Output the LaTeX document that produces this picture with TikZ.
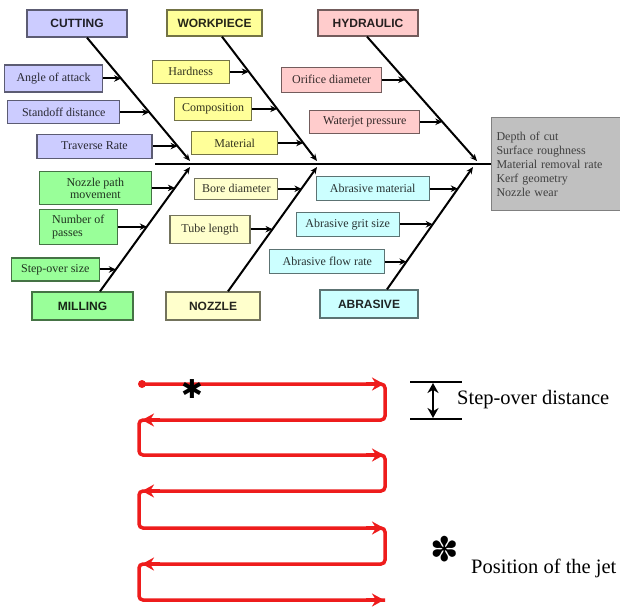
\documentclass[tikz,border=0pt]{standalone}
\usepackage{fontspec}
\setmainfont{Liberation Serif}
\setsansfont{Liberation Sans}
\newfontfamily\symfont{DejaVu Sans}
\usetikzlibrary{arrows.meta,calc}
\definecolor{cutC}{HTML}{CCCCFF}
\definecolor{wpC}{HTML}{FFFF99}
\definecolor{hydC}{HTML}{FFCCCC}
\definecolor{milC}{HTML}{99FF99}
\definecolor{nozC}{HTML}{FFFFCC}
\definecolor{abrC}{HTML}{CCFFFF}
\definecolor{outC}{HTML}{C0C0C0}
\definecolor{pathred}{HTML}{EE1C1C}
\tikzset{
  cat/.style={draw=#1!45!black, fill=#1, line width=1.3pt, inner sep=0pt,
    font=\sffamily\bfseries\fontsize{12}{12}\selectfont, text=#1!15!black},
  sub/.style={draw=#1!45!black, fill=#1, line width=1.1pt, inner sep=1pt, align=center,
    font=\fontsize{12}{13}\selectfont, text=#1!20!black},
  bone/.style={line width=2pt, -{Stealth[length=7pt,width=6pt]}},
  feed/.style={line width=2pt, -{Stealth[length=7pt,width=6.5pt]}},
  redpath/.style={draw=pathred, line width=3.5pt},
  redtip/.style={draw=pathred, line width=3.5pt, -{Stealth[length=12pt,width=13pt]}},
  bigtext/.style={font=\fontsize{20.5}{20.5}\selectfont, inner sep=0pt}
}
\begin{document}
\begin{tikzpicture}[x=1pt,y=-1pt]
\useasboundingbox[fill=white] (0,0) rectangle (620,606);

% category boxes
\node[cat=cutC, minimum width=100pt, minimum height=27pt] (cut) at (77,23.5) {CUTTING};
\node[cat=wpC, minimum width=95pt, minimum height=26pt] (wp) at (214.5,23) {WORKPIECE};
\node[cat=hydC, minimum width=100pt, minimum height=26pt] (hyd) at (368,23) {HYDRAULIC};
\node[cat=milC, minimum width=101pt, minimum height=28pt] (mil) at (82.5,306) {MILLING};
\node[cat=nozC, minimum width=94pt, minimum height=28pt] (noz) at (213,306) {NOZZLE};
\node[cat=abrC, minimum width=98pt, minimum height=28pt] (abr) at (369,304) {ABRASIVE};

% output box
\node[draw=black!50, fill=outC, line width=1.1pt, minimum height=93pt, text width=124pt,
  inner xsep=5pt, align=left, font=\fontsize{12}{14}\selectfont, text=black!75] (out) at (558.5,164)
  {Depth of cut\\Surface roughness\\Material removal rate\\Kerf geometry\\Nozzle wear};

% spine
\coordinate (spineL) at (155,164);
\draw[line width=2pt] (spineL) -- (out.west);

% bone end points
\coordinate (cutT) at ($(cut.south)+(10,0)$);
\coordinate (cutB) at (190,161);
\coordinate (wpT) at ($(wp.south)+(7.5,0)$);
\coordinate (wpB) at (317,161);
\coordinate (hydT) at ($(hyd.south)+(-1,0)$);
\coordinate (hydB) at (477,161);
\coordinate (milT) at ($(mil.north)+(17.5,0)$);
\coordinate (milB) at (190,167);
\coordinate (nozT) at ($(noz.north)+(15,0)$);
\coordinate (nozB) at (317,167);
\coordinate (abrT) at ($(abr.north)+(18,0)$);
\coordinate (abrB) at (473,167);

\draw[bone] (cutT) -- (cutB);
\draw[bone] (wpT) -- (wpB);
\draw[bone] (hydT) -- (hydB);
\draw[bone] (milT) -- (milB);
\draw[bone] (nozT) -- (nozB);
\draw[bone] (abrT) -- (abrB);

% points on bones
\coordinate (p11) at ($(cutT)!0.331!(cutB)$);
\coordinate (p12) at ($(cutT)!0.605!(cutB)$);
\coordinate (p13) at ($(cutT)!0.879!(cutB)$);
\coordinate (p21) at ($(wpT)!0.282!(wpB)$);
\coordinate (p22) at ($(wpT)!0.581!(wpB)$);
\coordinate (p23) at ($(wpT)!0.855!(wpB)$);
\coordinate (p31) at ($(hydT)!0.347!(hydB)$);
\coordinate (p32) at ($(hydT)!0.685!(hydB)$);
\coordinate (p41) at ($(milB)!0.168!(milT)$);
\coordinate (p42) at ($(milB)!0.48!(milT)$);
\coordinate (p43) at ($(milB)!0.824!(milT)$);
\coordinate (p51) at ($(nozB)!0.175!(nozT)$);
\coordinate (p52) at ($(nozB)!0.5!(nozT)$);
\coordinate (p61) at ($(abrB)!0.177!(abrT)$);
\coordinate (p62) at ($(abrB)!0.468!(abrT)$);
\coordinate (p63) at ($(abrB)!0.774!(abrT)$);

% sub-cause boxes
\node[sub=cutC, anchor=east, minimum width=98pt, minimum height=27pt] (s11) at ([xshift=-18pt]p11) {Angle of attack};
\node[sub=cutC, anchor=east, minimum width=112pt, minimum height=23pt] (s12) at ([xshift=-29pt]p12) {Standoff distance};
\node[sub=cutC, anchor=east, minimum width=115pt, minimum height=24pt] (s13) at ([xshift=-25pt]p13) {Traverse Rate};
\node[sub=wpC, anchor=east, minimum width=77pt, minimum height=23pt] (s21) at ([xshift=-19pt]p21) {Hardness};
\node[sub=wpC, anchor=east, minimum width=77pt, minimum height=23pt] (s22) at ([xshift=-25pt]p22) {Composition};
\node[sub=wpC, anchor=east, minimum width=86pt, minimum height=23pt] (s23) at ([xshift=-25pt]p23) {Material};
\node[sub=hydC, anchor=east, minimum width=100pt, minimum height=25pt] (s31) at ([xshift=-23pt]p31) {Orifice diameter};
\node[sub=hydC, anchor=east, minimum width=110pt, minimum height=23pt] (s32) at ([xshift=-22pt]p32) {Waterjet pressure};
\node[sub=milC, anchor=east, minimum width=112pt, minimum height=33pt, font=\fontsize{12}{12}\selectfont] (s41) at ([xshift=-23pt]p41) {Nozzle path\\movement};
\node[sub=milC, anchor=east, minimum width=78pt, minimum height=35pt, align=left, font=\fontsize{12}{13}\selectfont] (s42) at ([xshift=-29pt]p42) {Number of\\passes};
\node[sub=milC, anchor=east, minimum width=88pt, minimum height=23pt] (s43) at ([xshift=-16pt]p43) {Step-over size};
\node[sub=nozC, anchor=east, minimum width=83pt, minimum height=21pt] (s51) at ([xshift=-23pt]p51) {Bore diameter};
\node[sub=nozC, anchor=east, minimum width=80pt, minimum height=28pt] (s52) at ([xshift=-22pt]p52) {Tube length};
\node[sub=abrC, anchor=east, minimum width=113pt, minimum height=24pt] (s61) at ([xshift=-28pt]p61) {Abrasive material};
\node[sub=abrC, anchor=east, minimum width=103pt, minimum height=24pt] (s62) at ([xshift=-33pt]p62) {Abrasive grit size};
\node[sub=abrC, anchor=east, minimum width=115pt, minimum height=24pt] (s63) at ([xshift=-21pt]p63) {Abrasive flow rate};

\foreach \s/\p in {s11/p11,s12/p12,s13/p13,s21/p21,s22/p22,s23/p23,s31/p31,s32/p32,
  s41/p41,s42/p42,s43/p43,s51/p51,s52/p52,s61/p61,s62/p62,s63/p63}
  \draw[feed] (\s.east) -- (\p);

% serpentine tool path
\coordinate (r0) at (142,384);
\draw[redpath, rounded corners=4pt] (r0) -- (385,384) -- (385,420) -- (139,420) -- (139,455)
  -- (385,455) -- (385,491) -- (139,491) -- (139,528) -- (385,528) -- (385,564)
  -- (139,564) -- (139,600) -- (385,600);
\fill[pathred] (r0) circle (4pt);
\foreach \y in {384,455,528,600} \draw[redtip] (366,\y) -- (384,\y);
\foreach \y in {420,491,564} \draw[redtip] (160,\y) -- (142,\y);
\node[inner sep=0pt, font=\symfont\fontsize{26}{26}\selectfont] (jet) at (192,389) {✱};

% step-over legend
\coordinate (l1a) at (410,382); \coordinate (l1b) at (462,382);
\coordinate (l2a) at (410,419); \coordinate (l2b) at (462,419);
\draw[line width=1.4pt] (l1a) -- (l1b);
\draw[line width=1.4pt] (l2a) -- (l2b);
\coordinate (da) at (433,383); \coordinate (db) at (433,418);
\draw[line width=1.8pt, {Stealth[length=10pt,width=11pt]}-{Stealth[length=10pt,width=11pt]}] (da) -- (db);
\node[bigtext, anchor=west] (stepT) at (457,400) {Step-over distance};

% jet legend
\node[inner sep=0pt, font=\symfont\fontsize{34}{34}\selectfont] (jetL) at (445,549) {✽};
\node[bigtext, anchor=base west] (jetT) at (471,573) {Position of the jet};
\end{tikzpicture}
\end{document}
